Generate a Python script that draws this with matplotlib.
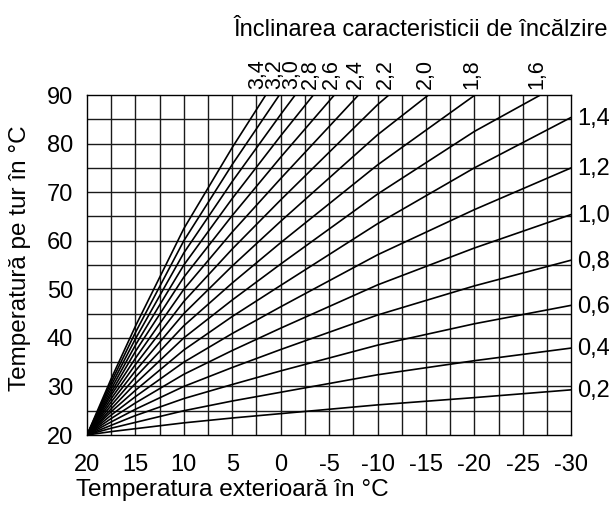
import numpy as np
import matplotlib
matplotlib.use("Agg")
import matplotlib.pyplot as plt

plt.rcParams["font.family"] = ["Liberation Sans", "DejaVu Sans"]

# outdoor temperature points (deg C)
outdoor = [20, 17.5, 15, 10, 5, 0, -10, -20, -30]

# flow temperature per heating curve slope
slopes = ["0,2", "0,4", "0,6", "0,8", "1,0", "1,2", "1,4", "1,6", "1,8",
          "2,0", "2,2", "2,4", "2,6", "2,8", "3,0", "3,2", "3,4"]
flow = [
    [20, 20.7, 21.3, 22.5, 23.5, 24.4, 26.2, 27.7, 29.3],
    [20, 21.4, 22.6, 25.0, 27.0, 28.8, 32.4, 35.3, 37.9],
    [20, 22.0, 24.0, 27.5, 30.4, 33.2, 38.5, 42.9, 46.7],
    [20, 22.7, 25.3, 30.0, 33.9, 37.6, 44.7, 50.7, 56.0],
    [20, 23.4, 26.6, 32.5, 37.4, 42.0, 50.9, 58.5, 65.4],
    [20, 24.1, 27.9, 35.0, 40.9, 46.4, 57.1, 66.4, 75.0],
    [20, 24.8, 29.2, 37.5, 44.4, 50.8, 63.5, 75.0, 85.4],
    [20, 25.4, 30.6, 40.0, 47.8, 55.2, 69.6, 82.5, 93.5],
    [20, 26.1, 31.9, 42.5, 51.3, 59.6, 75.6, 89.9, 102.4],
    [20, 26.8, 33.2, 45.0, 54.8, 64.0, 81.8, 97.4],
    [20, 27.5, 34.5, 47.5, 58.3, 68.4, 88.0, 105.1],
    [20, 28.2, 35.8, 50.0, 61.8, 72.8, 94.2],
    [20, 28.8, 37.2, 52.5, 65.2, 77.2, 100.3],
    [20, 29.5, 38.5, 55.0, 68.7, 81.6, 106.5],
    [20, 30.2, 39.8, 57.5, 72.2, 86.0, 112.7],
    [20, 30.9, 41.1, 60.0, 75.7, 90.4],
    [20, 31.6, 42.4, 62.5, 79.2, 94.8],
]

x_ticks = [20, 15, 10, 5, 0, -5, -10, -15, -20, -25, -30]
y_ticks = [20, 30, 40, 50, 60, 70, 80, 90]

FS = 17

fig = plt.figure(figsize=(6.14, 5.07), dpi=100)
ax = fig.add_axes([0.1417, 0.142, 0.7886, 0.6706])

ax.set_xlim(20, -30)
ax.set_ylim(20, 90)

for gx in np.arange(17.5, -30, -2.5):
    ax.axvline(gx, color="#1a1a1a", lw=1.0, zorder=1)
for gy in np.arange(25, 90, 5):
    ax.axhline(gy, color="#1a1a1a", lw=1.0, zorder=1)

prev_x = None  # keep the crowded top labels a little apart
for lab, vals in zip(slopes, flow):
    xs = outdoor[:len(vals)]
    ax.plot(xs, vals, color="black", lw=1.2, zorder=2, solid_capstyle="butt")
    if vals[-1] <= 90:
        ax.annotate(lab, (-30, vals[-1]), xytext=(4, -1), textcoords="offset points",
                    fontsize=FS, ha="left", va="center", annotation_clip=False)
    else:
        # where the curve leaves the top of the chart
        x_lab = np.interp(90, vals, xs) + 0.35
        if prev_x is not None:
            x_lab = max(x_lab, prev_x + 1.75)
        prev_x = x_lab
        ax.text(x_lab, 91.3, lab, fontsize=15.5, rotation=90,
                ha="center", va="bottom", clip_on=False)

ax.set_xticks(x_ticks)
ax.set_xticklabels([str(v) for v in x_ticks])
ax.set_yticks(y_ticks)
ax.tick_params(length=0, labelsize=FS)
ax.tick_params(axis="x", pad=14)
ax.tick_params(axis="y", pad=10)
for s in ax.spines.values():
    s.set_color("black")
    s.set_linewidth(1.0)

fig.text(0.033, 0.49, "Temperatură pe tur în °C", rotation=90, fontsize=17.5,
         ha="center", va="center")
fig.text(0.123, 0.034, "Temperatura exterioară în °C", fontsize=17.6,
         ha="left", va="center")
fig.text(0.99, 0.941, "Înclinarea caracteristicii de încălzire", fontsize=FS,
         ha="right", va="center")

fig.savefig("out.png", dpi=100)
